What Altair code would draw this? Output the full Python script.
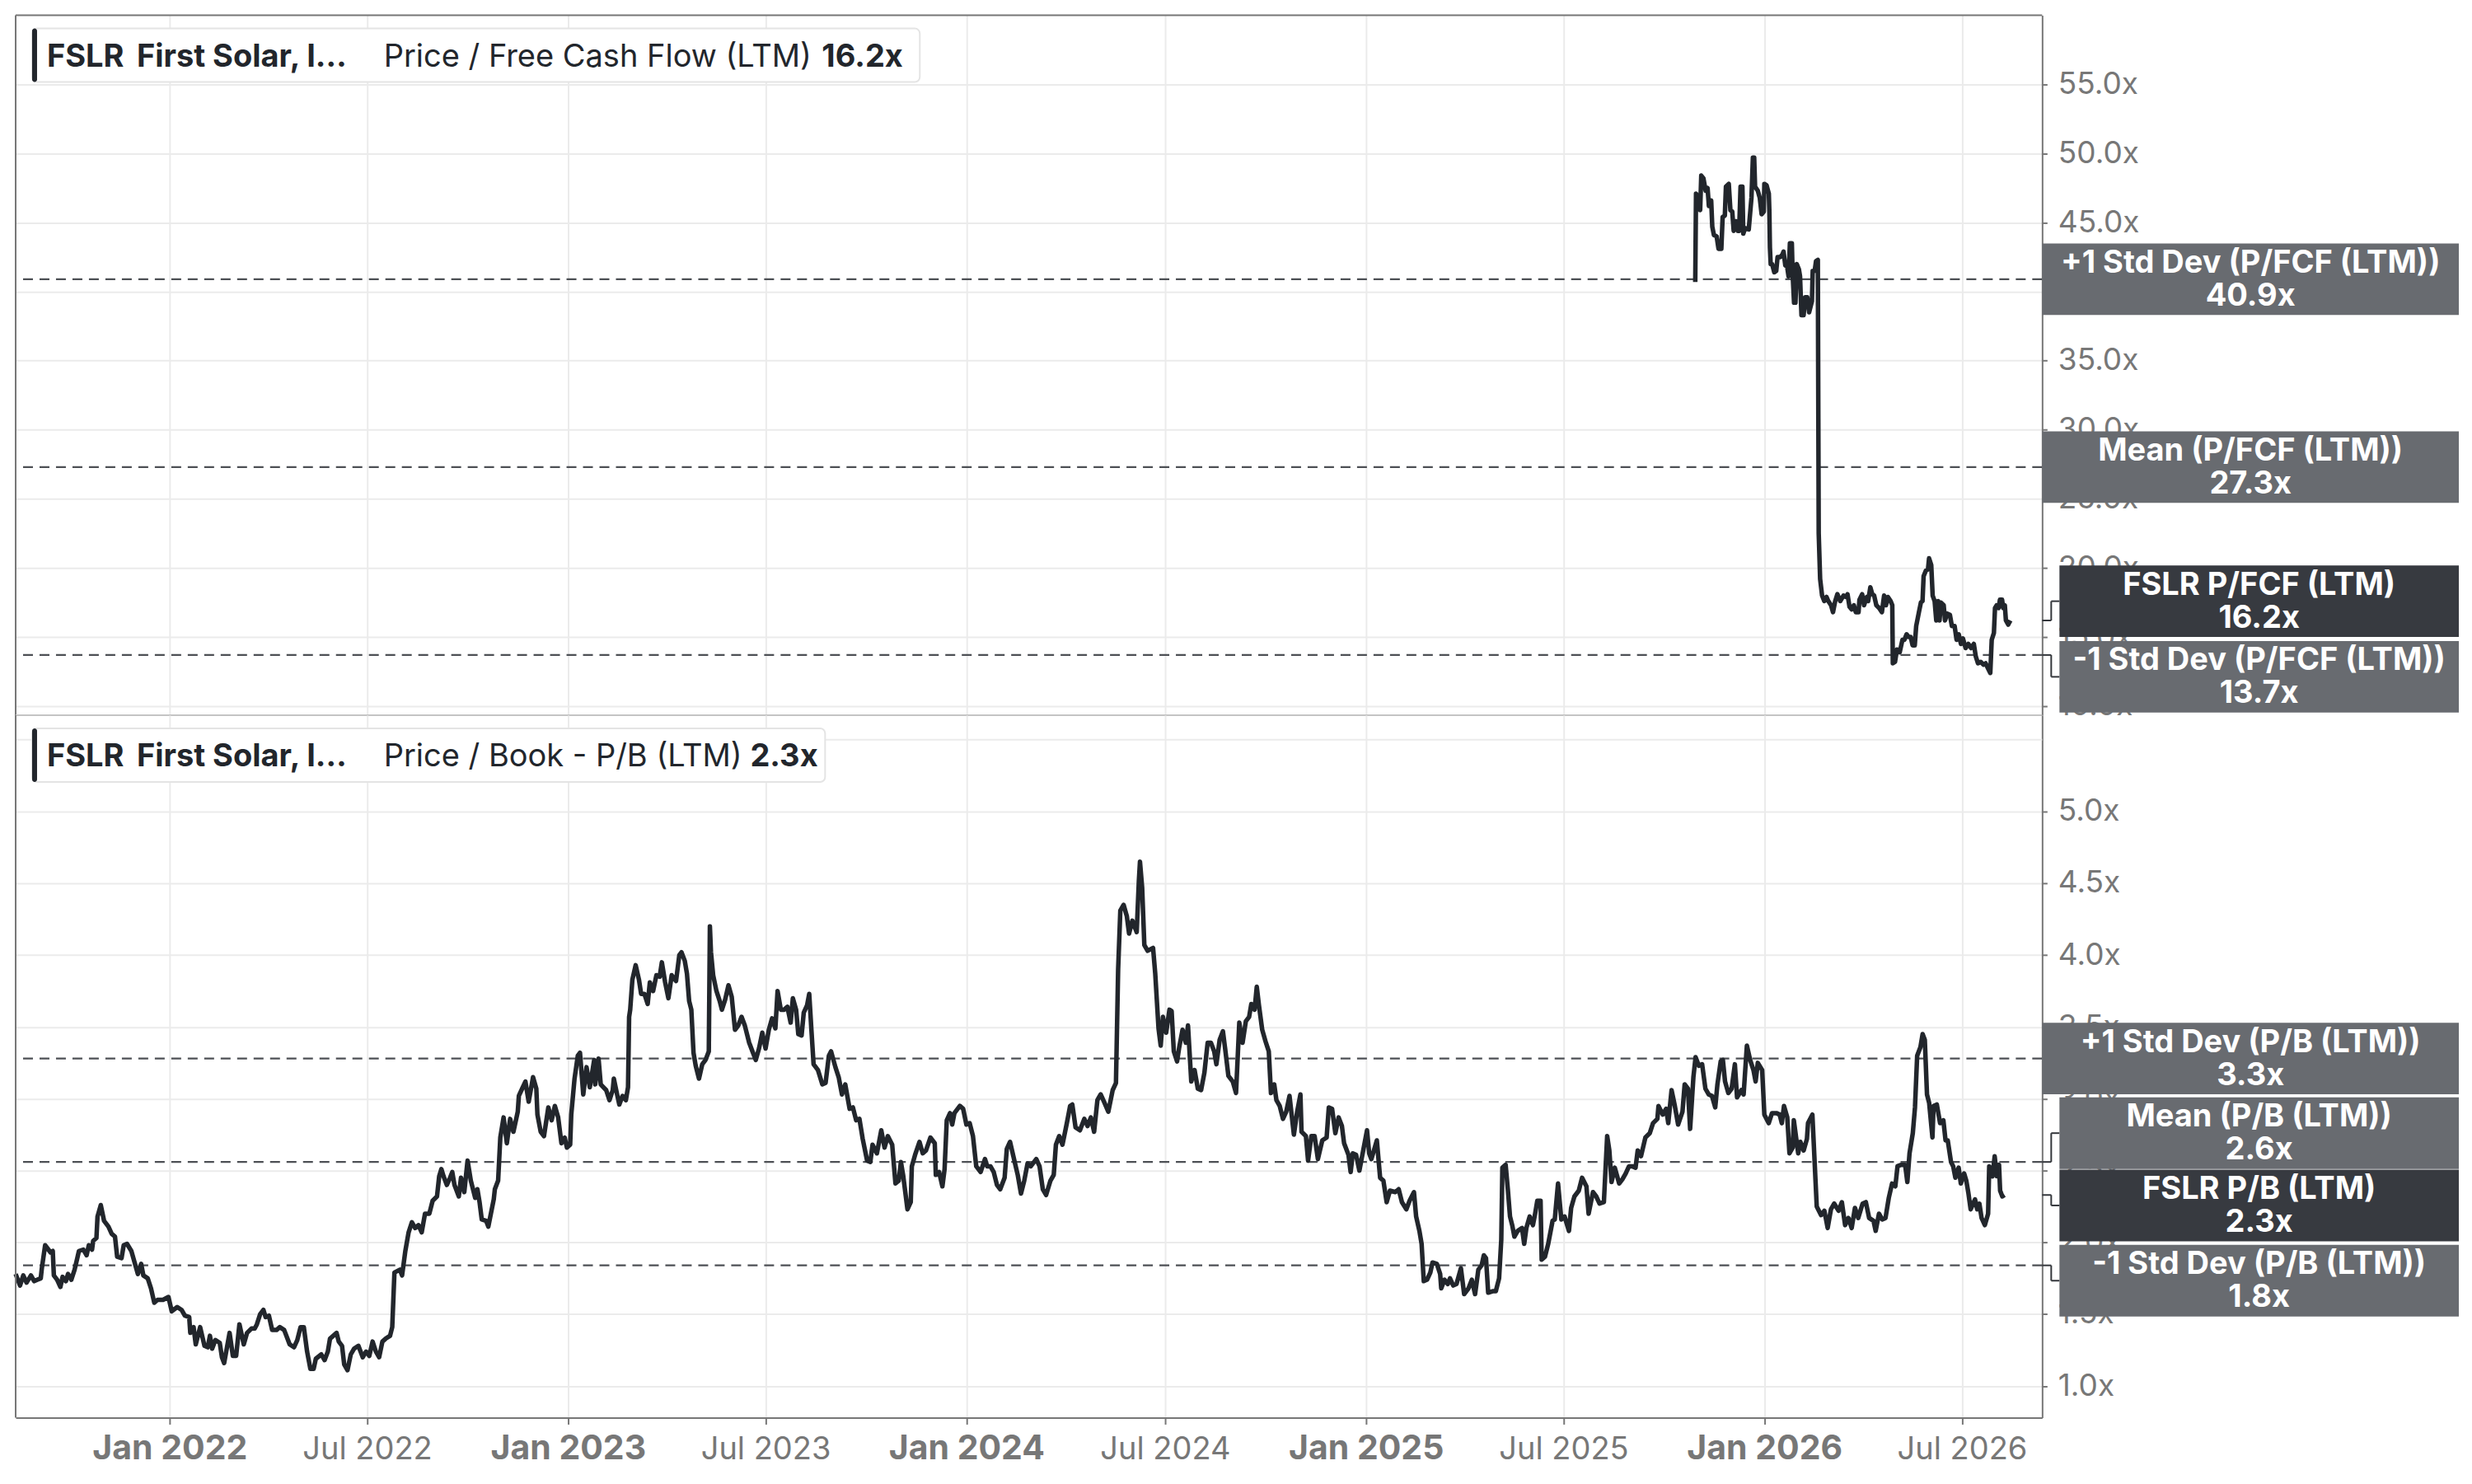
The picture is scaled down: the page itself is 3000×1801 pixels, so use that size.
import altair as alt
import pandas as pd

# ---------------- data ----------------
# P/B (LTM): days after 2022-01-01 and multiple
pb_days = [-141, -137, -134, -131, -127, -124, -121, -118, -117, -114, -109, -107, -106, -103, -100, -98, -95, -93, -90, -87,
           -83, -79, -76, -74, -71, -70, -67, -66, -63, -60, -56, -53, -50, -48, -44, -42, -39, -35, -32, -29,
           -26, -24, -20, -17, -14, -11, -6, -1, 2, 7, 11, 14, 18, 19, 22, 24, 28, 32, 35, 37,
           39, 42, 46, 48, 50, 55, 58, 61, 64, 68, 71, 75, 78, 80, 83, 86, 88, 91, 94, 98,
           101, 105, 110, 114, 117, 120, 123, 126, 129, 132, 134, 139, 142, 145, 147, 150, 153, 155, 158, 160,
           163, 166, 169, 173, 177, 180, 183, 186, 189, 192, 195, 198, 202, 204, 206, 211, 213, 216, 219, 222,
           225, 228, 231, 234, 238, 241, 245, 247, 249, 251, 254, 257, 259, 261, 265, 267, 270, 273, 276, 280,
           282, 284, 286, 290, 292, 297, 298, 301, 303, 306, 309, 312, 315, 319, 320, 323, 326, 329, 333,
           336, 337, 340, 343, 347, 350, 353, 356, 359, 362, 364, 367, 368, 371, 374, 376, 379, 382, 385, 389,
           390, 393, 395, 400, 403, 406, 407, 410, 412, 415, 418, 420, 421, 422, 424, 427, 430, 432, 435, 438,
           440, 443, 446, 449, 451, 454, 457, 460, 464, 467, 469, 472, 474, 476, 478, 480, 482, 485, 488, 491,
           494, 495, 496, 498, 501, 504, 506, 509, 512, 515, 518, 521, 524, 527, 531, 534, 537, 540, 543, 546,
           549, 552, 555, 557, 560, 563, 566, 569, 571, 574, 576, 579, 581, 584, 586, 588, 590, 594, 598, 601,
           604, 606, 610, 613, 616, 619, 623, 626, 629, 632, 635, 639, 642, 644, 648, 652, 655, 658, 662, 665,
           668, 670, 672, 676, 679, 680, 683, 687, 690, 693, 697, 701, 702, 705, 708, 710, 712, 715, 717, 719,
           724, 727, 730, 733, 736, 739, 743, 747, 749, 752, 755, 758, 761, 765, 767, 770, 773, 777, 780, 783,
           786, 789, 794, 797,
           800, 803, 807, 810, 812, 815, 818, 822, 825, 827, 830, 834, 838, 841, 844, 847, 850, 853, 856, 860,
           864, 867, 869, 871, 874, 877, 879, 882, 886, 888, 889, 891, 893, 896, 901, 903, 906, 908, 910, 913,
           916, 918, 920, 923, 925, 928, 931, 933, 936, 939, 942, 945, 948, 951, 954, 957, 959, 962, 965, 967,
           970, 974, 977, 980, 983, 986, 989, 991, 994, 996, 998, 1001, 1004, 1007, 1009, 1012, 1014, 1017, 1020, 1023,
           1026, 1030, 1033, 1036, 1037, 1041, 1043, 1046, 1049, 1052, 1056, 1060, 1062, 1065, 1068, 1071, 1074, 1076, 1080, 1082,
           1084, 1087, 1090, 1093, 1097, 1099, 1101, 1106, 1109, 1112, 1115, 1118, 1123, 1126, 1129, 1133, 1136, 1140, 1142, 1145,
           1147, 1149, 1152, 1155, 1157, 1161, 1164, 1165, 1168, 1171, 1173, 1176, 1179, 1183, 1186, 1190, 1193, 1196, 1199, 1202,
           1204, 1206, 1208, 1212, 1215, 1218, 1220, 1221, 1224, 1226, 1228, 1230, 1232, 1235, 1239, 1241, 1243, 1246, 1249, 1251,
           1253, 1256, 1257, 1260, 1263,
           1267, 1269, 1272, 1275, 1278, 1282, 1284, 1287, 1291, 1294, 1298, 1300, 1304, 1307, 1310, 1314, 1317, 1319, 1321, 1324,
           1328, 1331, 1334, 1337, 1340, 1343, 1345, 1348, 1352, 1356, 1359, 1363, 1364, 1368, 1371, 1373, 1376, 1379, 1382, 1386,
           1388, 1391, 1393, 1396, 1398, 1401, 1404, 1407, 1410, 1413, 1416, 1418, 1421, 1423, 1425, 1428, 1431, 1434, 1436, 1440,
           1442, 1445, 1448, 1451, 1453, 1455, 1459, 1461, 1465, 1468, 1472, 1475, 1477, 1479, 1482, 1484, 1487, 1488, 1492, 1494,
           1497, 1500, 1501, 1505, 1508, 1509, 1513, 1516, 1519, 1522, 1525, 1529, 1532, 1535, 1538, 1541, 1544, 1547, 1551, 1554,
           1557, 1561, 1563, 1566, 1569, 1572, 1575, 1578, 1581, 1583, 1586, 1590, 1592, 1594, 1597, 1599, 1601, 1604, 1606, 1608,
           1610, 1612, 1615, 1616, 1619, 1622, 1625, 1627, 1629, 1632, 1634, 1636, 1639, 1641, 1644, 1646, 1648, 1650, 1654, 1656,
           1658, 1660, 1663, 1666, 1667, 1670, 1672, 1674, 1676, 1677, 1679, 1681]
pb_vals = [1.78, 1.70, 1.77, 1.72, 1.77, 1.73, 1.74, 1.75, 1.82, 1.98, 1.93, 1.94, 1.77, 1.74, 1.69, 1.76, 1.73, 1.78, 1.74, 1.81,
           1.94, 1.95, 1.91, 1.98, 1.95, 2.01, 2.03, 2.18, 2.26, 2.15, 2.11, 2.06, 2.04, 1.90, 1.89, 1.98, 1.99, 1.94, 1.86, 1.78,
           1.85, 1.77, 1.75, 1.68, 1.58, 1.60, 1.60, 1.62, 1.52, 1.55, 1.53, 1.49, 1.48, 1.37, 1.41, 1.29, 1.41, 1.28, 1.27, 1.35,
           1.26, 1.32, 1.30, 1.20, 1.16, 1.37, 1.21, 1.21, 1.43, 1.29, 1.37, 1.40, 1.40, 1.43, 1.50, 1.53, 1.48, 1.49, 1.39, 1.39,
           1.41, 1.39, 1.29, 1.27, 1.32, 1.41, 1.41, 1.24, 1.12, 1.12, 1.19, 1.22, 1.18, 1.24, 1.33, 1.35, 1.37, 1.31, 1.28, 1.15,
           1.11, 1.22, 1.26, 1.28, 1.20, 1.24, 1.21, 1.31, 1.24, 1.20, 1.31, 1.33, 1.35, 1.41, 1.79, 1.81, 1.77, 1.94, 2.07, 2.14,
           2.10, 2.12, 2.07, 2.20, 2.20, 2.29, 2.32, 2.46, 2.51, 2.46, 2.40, 2.45, 2.49, 2.40, 2.32, 2.45, 2.35, 2.57, 2.43, 2.31,
           2.37, 2.28, 2.16, 2.15, 2.11, 2.30, 2.37, 2.43, 2.73, 2.87, 2.69, 2.86, 2.77, 2.91, 3.02, 3.07, 3.12, 2.98, 3.15,
           3.07, 2.89, 2.77, 2.74, 2.94, 2.85, 2.95, 2.87, 2.69, 2.73, 2.66, 2.68, 2.89, 3.14, 3.30, 3.32, 3.03, 3.22, 3.08, 3.27,
           3.10, 3.28, 3.10, 3.06, 2.99, 3.06, 3.14, 3.03, 2.96, 3.02, 2.99, 3.08, 3.57, 3.62, 3.83, 3.93, 3.83, 3.73, 3.73, 3.66,
           3.81, 3.75, 3.86, 3.85, 3.95, 3.81, 3.70, 3.86, 3.82, 4.00, 4.02, 3.96, 3.87, 3.68, 3.62, 3.32, 3.23, 3.14, 3.24, 3.27,
           3.33, 4.20, 4.02, 3.86, 3.75, 3.68, 3.62, 3.69, 3.79, 3.71, 3.48, 3.51, 3.57, 3.51, 3.39, 3.33, 3.27, 3.35, 3.46, 3.35,
           3.48, 3.56, 3.49, 3.75, 3.62, 3.62, 3.64, 3.53, 3.70, 3.62, 3.45, 3.44, 3.60, 3.65, 3.73, 3.48, 3.24, 3.20, 3.10, 3.11,
           3.30, 3.33, 3.22, 3.15, 3.03, 3.10, 2.93, 2.94, 2.85, 2.86, 2.72, 2.57, 2.56, 2.68, 2.62, 2.78, 2.66, 2.74, 2.68, 2.41,
           2.43, 2.56, 2.47, 2.23, 2.28, 2.53, 2.61, 2.70, 2.62, 2.64, 2.73, 2.69, 2.47, 2.49, 2.39, 2.51, 2.85, 2.90, 2.82, 2.90,
           2.95, 2.93, 2.82, 2.83, 2.74, 2.53, 2.49, 2.58, 2.53, 2.53, 2.49, 2.40, 2.37, 2.45, 2.65, 2.70, 2.60, 2.47, 2.34, 2.43,
           2.55, 2.53, 2.58, 2.53,
           2.37, 2.33, 2.43, 2.47, 2.68, 2.74, 2.68, 2.83, 2.95, 2.96, 2.80, 2.78, 2.86, 2.81, 2.87, 2.77, 2.99, 3.03, 2.98, 2.91,
           3.06, 3.11, 3.90, 4.31, 4.35, 4.27, 4.15, 4.24, 4.16, 4.52, 4.65, 4.47, 4.07, 4.03, 4.05, 3.87, 3.49, 3.37, 3.57, 3.46,
           3.62, 3.61, 3.33, 3.26, 3.36, 3.48, 3.39, 3.51, 3.12, 3.20, 3.07, 3.06, 3.18, 3.39, 3.39, 3.33, 3.24, 3.41, 3.47, 3.35,
           3.16, 3.12, 3.04, 3.53, 3.39, 3.54, 3.57, 3.66, 3.62, 3.78, 3.65, 3.48, 3.40, 3.33, 3.04, 3.10, 2.99, 2.95, 2.86, 2.91,
           3.02, 2.75, 2.91, 3.03, 2.77, 2.74, 2.57, 2.74, 2.74, 2.58, 2.71, 2.73, 2.94, 2.93, 2.76, 2.87, 2.81, 2.69, 2.61, 2.49,
           2.62, 2.61, 2.50, 2.62, 2.78, 2.62, 2.58, 2.71, 2.45, 2.43, 2.28, 2.36, 2.35, 2.37, 2.28, 2.23, 2.29, 2.35, 2.18, 2.08,
           1.99, 1.73, 1.74, 1.79, 1.86, 1.85, 1.78, 1.68, 1.74, 1.71, 1.75, 1.70, 1.71, 1.82, 1.64, 1.68, 1.74, 1.64, 1.81, 1.84,
           1.91, 1.89, 1.65, 1.66, 1.66, 1.75, 2.02, 2.52, 2.54, 2.37, 2.18, 2.12, 2.04, 2.08, 2.10, 1.99, 2.10, 2.18, 2.12, 2.20,
           2.29, 2.29, 1.88, 1.90, 1.99,
           2.15, 2.16, 2.41, 2.16, 2.18, 2.08, 2.24, 2.32, 2.36, 2.45, 2.39, 2.20, 2.35, 2.32, 2.27, 2.28, 2.74, 2.64, 2.42, 2.52,
           2.41, 2.44, 2.48, 2.53, 2.53, 2.52, 2.64, 2.60, 2.73, 2.76, 2.83, 2.86, 2.95, 2.89, 2.93, 2.83, 3.06, 2.95, 2.82, 2.91,
           3.10, 3.07, 2.79, 3.15, 3.29, 3.23, 3.24, 3.07, 3.03, 3.02, 2.94, 3.10, 3.26, 3.27, 3.12, 3.04, 3.07, 3.24, 3.01, 3.06,
           3.03, 3.37, 3.27, 3.20, 3.12, 3.25, 3.20, 2.89, 2.83, 2.90, 2.90, 2.89, 2.83, 2.95, 2.87, 2.62, 2.66, 2.85, 2.62, 2.70,
           2.64, 2.72, 2.83, 2.89, 2.41, 2.25, 2.19, 2.22, 2.10, 2.23, 2.27, 2.22, 2.28, 2.12, 2.17, 2.10, 2.24, 2.17, 2.27, 2.28,
           2.17, 2.15, 2.08, 2.20, 2.16, 2.17, 2.31, 2.41, 2.39, 2.53, 2.54, 2.54, 2.42, 2.62, 2.76, 2.94, 3.30, 3.36, 3.45, 3.41,
           3.03, 2.97, 2.73, 2.95, 2.96, 2.83, 2.85, 2.71, 2.71, 2.56, 2.53, 2.45, 2.52, 2.41, 2.48, 2.43, 2.34, 2.23, 2.30, 2.23,
           2.27, 2.17, 2.12, 2.20, 2.53, 2.46, 2.60, 2.46, 2.54, 2.36, 2.32, 2.33]

# P/FCF (LTM): days after 2022-01-01 and multiple
fcf_days = [1397.7, 1398.4, 1400.7, 1402.2, 1403.2, 1405.2, 1407.2, 1409.0, 1410.2, 1412.3, 1413.3, 1414.8, 1417.3, 1419.0,
            1421.6, 1422.8, 1424.8, 1425.8, 1428.4, 1429.9, 1431.6, 1432.9, 1434.9, 1436.7, 1437.9, 1439.2, 1440.9, 1441.7,
            1443.4, 1446.7, 1449.2, 1450.5, 1451.7, 1452.5, 1455.0, 1456.8, 1458.5, 1460.5, 1461.0, 1463.0, 1465.1, 1465.6,
            1466.1, 1466.8, 1468.1, 1470.1, 1471.9, 1473.1, 1475.6, 1477.6, 1478.6, 1480.2, 1481.9, 1483.2, 1484.4, 1486.2,
            1486.9, 1488.2, 1489.5, 1490.7, 1492.7, 1493.7, 1495.0, 1497.0, 1498.3, 1500.3, 1502.0, 1504.6, 1505.3, 1507.1,
            1508.3, 1510.0, 1510.8, 1512.1, 1513.9, 1515.9, 1517.9, 1519.6, 1522.1, 1523.9, 1525.9, 1527.9, 1530.5, 1533.5,
            1536.0, 1537.2, 1539.0, 1541.0, 1543.0, 1544.8, 1547.3, 1548.1, 1550.6, 1552.3, 1554.9, 1556.1, 1558.1, 1559.9,
            1561.6, 1563.6, 1566.2, 1568.7, 1570.7, 1572.4, 1574.2, 1576.7, 1578.2, 1578.7, 1580.7, 1582.5, 1585.0, 1587.5,
            1589.3, 1591.3, 1593.3, 1595.1, 1596.8, 1598.8, 1600.1, 1602.6, 1604.4, 1605.9, 1606.9, 1608.9, 1610.9, 1611.9,
            1613.9, 1615.2, 1617.0, 1618.5, 1620.2, 1621.5, 1622.7, 1625.3, 1626.5, 1628.5, 1631.0, 1632.8, 1635.3, 1637.1,
            1639.1, 1641.1, 1642.9, 1645.4, 1647.9, 1650.4, 1652.9, 1654.7, 1656.7, 1659.2, 1661.7, 1663.7, 1665.5, 1668.0,
            1669.3, 1671.3, 1672.3, 1673.8, 1675.6, 1676.8, 1678.8, 1679.8, 1681.3, 1682.3, 1684.4, 1686.4]
fcf_vals = [40.7, 47.1, 46.7, 45.9, 48.4, 48.2, 47.3, 47.5, 46.2, 46.6, 44.7, 44.1, 44.0, 43.1,
            43.1, 45.4, 45.5, 47.6, 47.8, 45.9, 45.8, 44.4, 45.1, 44.4, 44.4, 47.6, 47.6, 44.2,
            44.6, 44.5, 46.8, 49.7, 49.7, 47.6, 47.3, 46.8, 45.6, 45.8, 47.8, 47.7, 47.1, 45.8,
            43.2, 42.0, 42.0, 41.4, 41.5, 42.5, 42.5, 42.7, 42.9, 41.9, 41.8, 41.1, 43.5, 43.5,
            41.3, 39.2, 39.2, 42.0, 41.6, 41.1, 38.3, 38.3, 39.6, 39.6, 38.5, 39.3, 41.5, 41.5,
            42.2, 42.3, 22.5, 19.2, 18.0, 17.6, 17.9, 17.6, 17.3, 16.8, 17.6, 18.1, 17.6, 18.0,
            17.9, 18.1, 17.2, 17.0, 17.3, 16.8, 16.8, 17.7, 18.1, 17.3, 17.9, 17.6, 18.6, 18.1,
            18.0, 17.3, 17.1, 16.8, 18.0, 17.3, 17.9, 17.6, 17.3, 13.1, 13.2, 14.1, 13.9, 14.8,
            14.8, 15.2, 15.0, 15.0, 14.4, 14.4, 15.8, 16.8, 17.5, 17.6, 19.4, 19.8, 19.9, 20.7,
            20.2, 18.0, 17.6, 16.2, 17.6, 16.2, 17.5, 17.3, 16.2, 16.7, 16.6, 15.8, 15.8, 14.8,
            15.2, 14.5, 14.9, 14.2, 14.5, 14.2, 14.5, 13.6, 13.1, 13.2, 13.0, 13.1, 12.8, 12.4,
            14.8, 15.3, 17.1, 17.3, 17.1, 17.7, 17.7, 17.1, 17.3, 16.2, 15.9, 16.2]

fcf_ref_names = ["+1 Std Dev (P/FCF (LTM))", "Mean (P/FCF (LTM))", "FSLR P/FCF (LTM)", "-1 Std Dev (P/FCF (LTM))"]
fcf_ref_vals = [40.9, 27.3, 16.2, 13.7]
pb_ref_names = ["+1 Std Dev (P/B (LTM))", "Mean (P/B (LTM))", "FSLR P/B (LTM)", "-1 Std Dev (P/B (LTM))"]
pb_ref_vals = [3.28, 2.56, 2.33, 1.84]
ref_kinds = ["band", "band", "current", "band"]

fcf_title = ["FSLR", "First Solar, I\u2026", "Price / Free Cash Flow (LTM)", "16.2x"]
pb_title = ["FSLR", "First Solar, I\u2026", "Price / Book - P/B (LTM)", "2.3x"]

fcf_ticks = [10, 15, 20, 25, 30, 35, 40, 45, 50, 55]
pb_ticks = [1.0, 1.5, 2.0, 2.5, 3.0, 3.5, 4.0, 4.5, 5.0]
pb_extra_grid = [5.5]
x_tick_years = [2022, 2023, 2024, 2025, 2026]
x_tick_months = [1, 7]

# ---------------- layout / style ----------------
W = 2461
H_TOP = 850
H_BOT = 853
FCF_DOMAIN = [9.34, 60.0]
PB_DOMAIN = [0.78, 5.67]
X_DOMAIN = [alt.DateTime(year=2021, month=8, date=13), alt.DateTime(year=2026, month=9, date=12, hours=12)]
GRID = "#ebebeb"
AXIS_GREY = "#777777"
LINE = "#22262c"
DASH = "#4d5055"
BOX_GREY = "#686b70"
BOX_DARK = "#373a40"
FONT = "Inter"
BOX_RIGHT = 506
HALF_BOX = 43.5

fcf_layout = [dict(shift=0, inset=0), dict(shift=0, inset=0), dict(shift=-23.4, inset=21), dict(shift=26.5, inset=21)]
pb_layout = [dict(shift=0, inset=0), dict(shift=-35.0, inset=21), dict(shift=12.7, inset=21), dict(shift=18.6, inset=21)]
title_x = [38, 147, 447]

BASE = pd.Timestamp("2022-01-01")


def to_df(days, vals):
    return pd.DataFrame({"date": BASE + pd.to_timedelta(days, unit="D"), "v": vals})


tick_vals = [alt.DateTime(year=y, month=m, date=1) for y in x_tick_years for m in x_tick_months]
is_jan = "month(datum.value) == 0"


def panel(df, height, domain, ticks, ref_names, ref_vals, layout, title, value_x, box_right,
          show_x, extra_grid=()):
    ys = alt.Scale(domain=domain, nice=False, zero=False)
    yax = alt.Axis(orient="right", values=ticks, labelExpr="format(datum.value, '.1f') + 'x'",
                   grid=True, gridColor=GRID, gridWidth=2, domainColor=AXIS_GREY, domainWidth=2,
                   tickColor=AXIS_GREY, tickSize=6, tickWidth=2, labelColor=AXIS_GREY, labelFont=FONT,
                   labelFontSize=37, labelPadding=13, title=None, labelOverlap=False)

    def Y():
        return alt.Y("v:Q", scale=ys, axis=yax)

    if show_x:
        xax = alt.Axis(values=tick_vals, format="%b %Y", grid=True, gridColor=GRID, gridWidth=2,
                       domainColor=AXIS_GREY, domainWidth=2, tickColor=AXIS_GREY, tickWidth=2, tickSize=8,
                       labelColor=AXIS_GREY, labelFont=FONT, labelLimit=600,
                       labelFontSize={"condition": {"test": is_jan, "value": 41}, "value": 38},
                       labelFontWeight={"condition": {"test": is_jan, "value": "bold"}, "value": "normal"},
                       labelBaseline="alphabetic", labelPadding=42, labelFlush=False, title=None)
    else:
        xax = alt.Axis(values=tick_vals, grid=True, gridColor=GRID, gridWidth=2, labels=False, ticks=False,
                       domain=False, title=None)

    layers = []
    if extra_grid:
        layers.append(alt.Chart(pd.DataFrame({"v": list(extra_grid)})).mark_rule(
            color=GRID, strokeWidth=2).encode(y=Y()))

    band_vals = [v for v, k in zip(ref_vals, ref_kinds) if k == "band"]
    layers.append(alt.Chart(pd.DataFrame({"v": band_vals})).mark_rule(
        color=DASH, strokeWidth=2.2, strokeDash=[12, 8]).encode(y=Y()))

    layers.append(alt.Chart(df).mark_line(color=LINE, strokeWidth=5.5, strokeJoin="round").encode(
        x=alt.X("date:T", scale=alt.Scale(domain=X_DOMAIN), axis=xax), y=Y()))

    # frame lines
    one = pd.DataFrame({"k": [0]})
    layers.append(alt.Chart(one).mark_rule(color=AXIS_GREY, strokeWidth=2).encode(
        x=alt.value(0), y=alt.value(0), y2=alt.value(height)))
    if not show_x:
        layers.append(alt.Chart(one).mark_rule(color=AXIS_GREY, strokeWidth=2).encode(
            x=alt.value(0), x2=alt.value(W), y=alt.value(0)))
        layers.append(alt.Chart(one).mark_rule(color="#c4c4c4", strokeWidth=2).encode(
            x=alt.value(0), x2=alt.value(W), y=alt.value(height)))

    # title box
    layers.append(alt.Chart(one).mark_rect(fill="white", stroke="#e4e4e4", strokeWidth=2, cornerRadius=6).encode(
        x=alt.value(20), x2=alt.value(box_right), y=alt.value(16), y2=alt.value(81)))
    layers.append(alt.Chart(one).mark_rect(fill=LINE, cornerRadius=3).encode(
        x=alt.value(20), x2=alt.value(26), y=alt.value(16), y2=alt.value(81)))
    xs_title = title_x + [value_x]
    weights = ["bold", "bold", "normal", "bold"]
    for txt, xp, wt in zip(title, xs_title, weights):
        layers.append(alt.Chart(pd.DataFrame({"t": [txt]})).mark_text(
            align="left", baseline="alphabetic", font=FONT, fontSize=38, fontWeight=wt, color=LINE).encode(
            x=alt.value(xp), y=alt.value(62), text="t:N"))

    # right-hand value boxes
    for name, val, kind, lay in zip(ref_names, ref_vals, ref_kinds, layout):
        d = pd.DataFrame({"v": [val], "name": [name], "lab": [f"{val:.1f}x"]})
        sh, ins = lay["shift"], lay["inset"]
        col = BOX_DARK if kind == "current" else BOX_GREY
        if ins:
            layers.append(alt.Chart(d).mark_rule(color="#34373c", strokeWidth=2).encode(
                x=alt.value(W), x2=alt.value(W + 11), y=Y()))
            layers.append(alt.Chart(d).mark_rule(color="#34373c", strokeWidth=2, y2Offset=sh).encode(
                x=alt.value(W + 11), y=Y(), y2=alt.Y2("v:Q")))
            layers.append(alt.Chart(d).mark_rule(color="#34373c", strokeWidth=2, yOffset=sh).encode(
                x=alt.value(W + 11), x2=alt.value(W + ins), y=Y()))
        layers.append(alt.Chart(d).mark_rect(color=col, yOffset=sh - HALF_BOX, y2Offset=sh + HALF_BOX).encode(
            x=alt.value(W + ins), x2=alt.value(W + BOX_RIGHT), y=Y(), y2=alt.Y2("v:Q")))
        cx = W + (ins + BOX_RIGHT) / 2
        layers.append(alt.Chart(d).mark_text(font=FONT, fontSize=38, fontWeight="bold", color="white",
                                             align="center", baseline="alphabetic", dy=sh - 8).encode(
            x=alt.value(cx), y=Y(), text="name:N"))
        layers.append(alt.Chart(d).mark_text(font=FONT, fontSize=38, fontWeight="bold", color="white",
                                             align="center", baseline="alphabetic", dy=sh + 32).encode(
            x=alt.value(cx), y=Y(), text="lab:N"))

    return alt.layer(*layers).properties(width=W, height=height)


top = panel(to_df(fcf_days, fcf_vals), H_TOP, FCF_DOMAIN, fcf_ticks, fcf_ref_names, fcf_ref_vals,
            fcf_layout, fcf_title, 979, 1098, show_x=False)
bottom = panel(to_df(pb_days, pb_vals), H_BOT, PB_DOMAIN, pb_ticks, pb_ref_names, pb_ref_vals,
               pb_layout, pb_title, 892, 983, show_x=True, extra_grid=pb_extra_grid)

chart = alt.vconcat(top, bottom, spacing=0, bounds="flush").properties(
    padding={"left": 8, "top": 9, "right": 8, "bottom": 16}, background="white"
).configure_view(strokeWidth=0)

chart.save("out.html", embed_options={"renderer": "svg", "actions": False})
